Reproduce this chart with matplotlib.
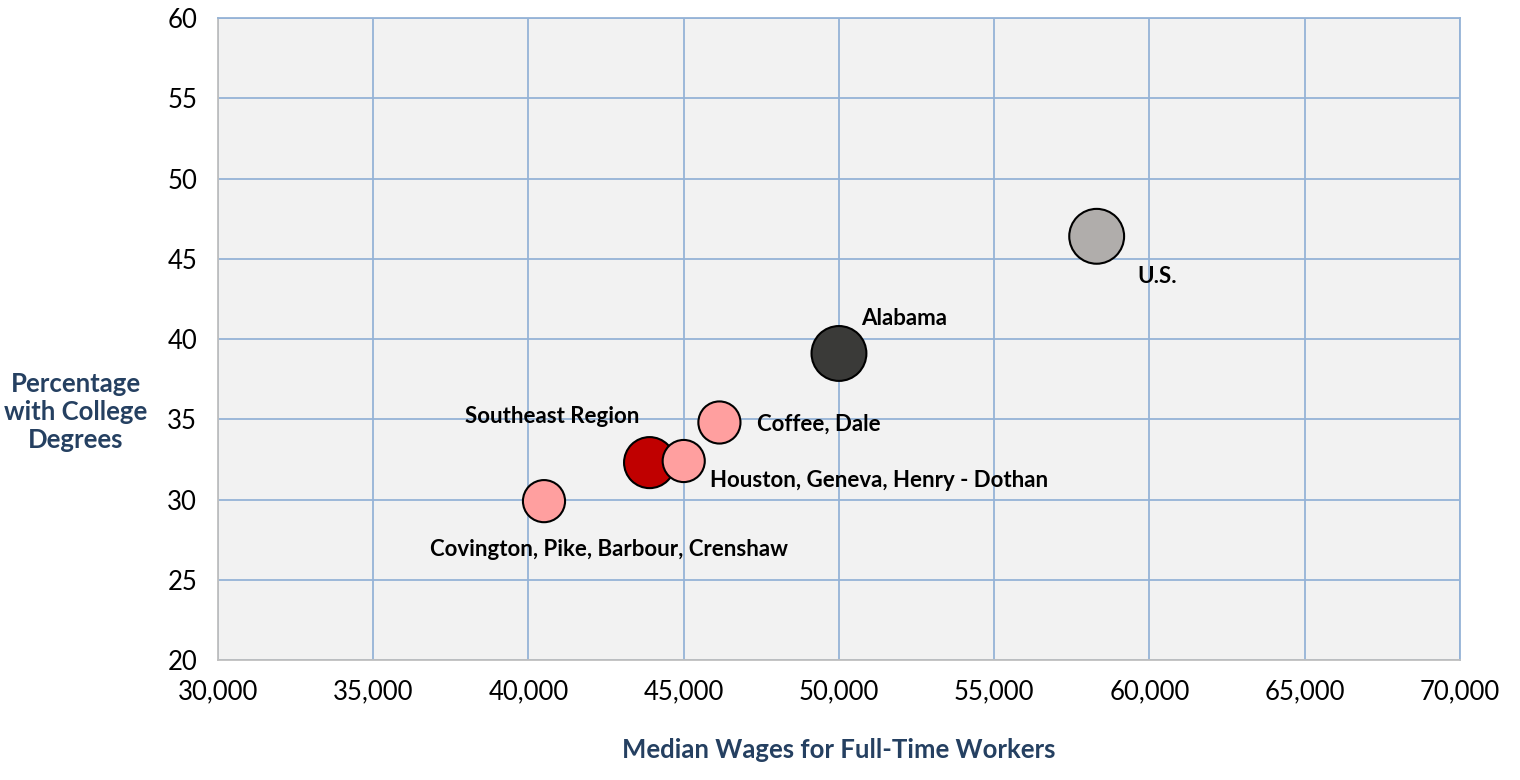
import matplotlib
matplotlib.use("Agg")
import matplotlib.pyplot as plt
from matplotlib.ticker import FuncFormatter, MultipleLocator

plt.rcParams['font.family'] = ['Lato', 'DejaVu Sans']

regions = ["Covington, Pike, Barbour, Crenshaw", "Southeast Region",
           "Houston, Geneva, Henry - Dothan", "Coffee, Dale", "Alabama", "U.S."]
wages = [40500, 43900, 45000, 46150, 50000, 58300]
college_pct = [29.9, 32.3, 32.4, 34.8, 39.1, 46.4]

# styling per bubble
colors = ["#FF9F9F", "#C00000", "#FF9F9F", "#FF9F9F", "#3A3A38", "#B0ADAB"]
sizes = [920, 1350, 920, 920, 1560, 1560]
# label offsets in points and alignment
offsets = [(47, -35), (-7, 33), (19, -14), (27, -1), (16, 25), (29, -29)]
aligns = ["center", "right", "left", "left", "left", "left"]

navy = "#254061"
grid_blue = "#95B3D7"

fig = plt.figure(figsize=(15.2, 7.8), dpi=100)
ax = fig.add_axes([0.1434, 0.1538, 0.8171, 0.8231])
ax.set_facecolor("#F2F2F2")

ax.scatter(wages, college_pct, s=sizes, c=colors, edgecolors="black",
           linewidths=1.5, zorder=3)

for name, x, y, off, ha in zip(regions, wages, college_pct, offsets, aligns):
    ax.annotate(name, (x, y), xytext=off, textcoords="offset points",
                ha=ha, va="center", fontsize=16, fontweight="bold",
                color="black", zorder=4)

ax.set_xlim(30000, 70000)
ax.set_ylim(20, 60)
ax.xaxis.set_major_locator(MultipleLocator(5000))
ax.yaxis.set_major_locator(MultipleLocator(5))
ax.xaxis.set_major_formatter(FuncFormatter(lambda v, p: f"{int(v):,}"))
ax.grid(True, color=grid_blue, linewidth=1.3, zorder=0)
ax.set_axisbelow(True)
for side in ["top", "right"]:
    ax.spines[side].set_color(grid_blue)
    ax.spines[side].set_linewidth(1.3)
for side in ["left", "bottom"]:
    ax.spines[side].set_color("#BFBFBF")
    ax.spines[side].set_linewidth(1.3)
ax.tick_params(length=0, labelsize=18.5, colors="black")
ax.tick_params(axis="x", pad=14)
ax.tick_params(axis="y", pad=15)

fig.text(0.552, 0.038, "Median Wages for Full-Time Workers", ha="center",
         va="center", fontsize=18.5, fontweight="bold", color=navy)
fig.text(0.05, 0.472, "Percentage\nwith College\nDegrees", ha="center",
         va="center", fontsize=18.5, fontweight="bold", color=navy,
         linespacing=1.2)

fig.savefig("out.png", dpi=100)
